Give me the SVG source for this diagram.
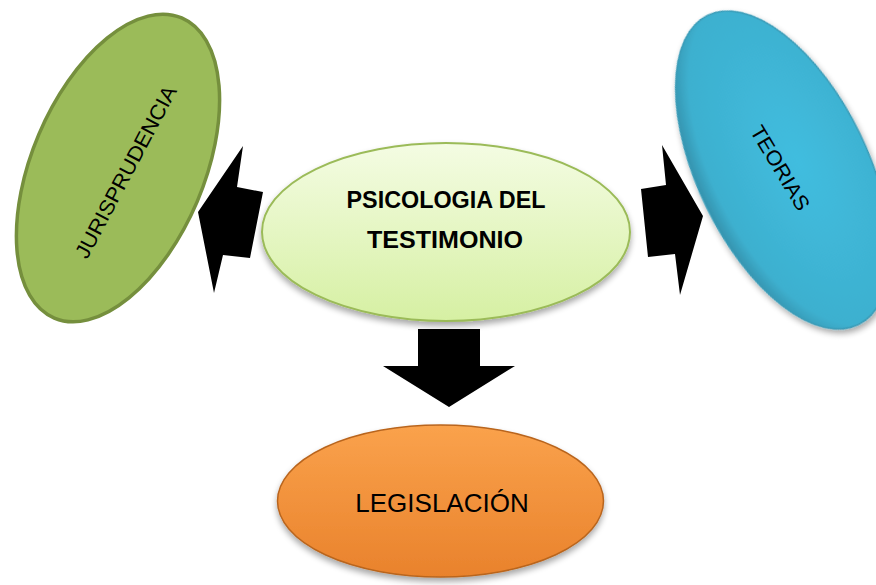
<svg xmlns="http://www.w3.org/2000/svg" width="876" height="585" viewBox="0 0 876 585">
<style>
.lbl{font-family:"Liberation Sans",Arial,sans-serif;fill:#000}
.bold{font-weight:bold}
.arrow{fill:#000}
</style>
<defs>
<filter id="sh" x="-20%" y="-20%" width="140%" height="150%">
<feGaussianBlur in="SourceAlpha" stdDeviation="3"/>
<feOffset dx="0" dy="4" result="b"/>
<feComponentTransfer><feFuncA type="linear" slope="0.35"/></feComponentTransfer>
<feMerge><feMergeNode/><feMergeNode in="SourceGraphic"/></feMerge>
</filter>
<linearGradient id="gCenter" x1="0" y1="0" x2="0" y2="1">
<stop offset="0" stop-color="#F4FCE3"/>
<stop offset="1" stop-color="#D6F0A3"/>
</linearGradient>
<linearGradient id="gOrange" x1="0" y1="0" x2="0" y2="1">
<stop offset="0" stop-color="#FAA24C"/>
<stop offset="1" stop-color="#E9822C"/>
</linearGradient>
<radialGradient id="gBlue" cx="0.6" cy="0.5" r="0.6">
<stop offset="0" stop-color="#41BDDF"/>
<stop offset="0.85" stop-color="#3DB0CF"/>
<stop offset="1" stop-color="#3592AD"/>
</radialGradient>
</defs>
<g id="connectors">
<polygon class="arrow" points="198,212 243,146 237,187 263,192 250,258 223,255 214,293"/>
<polygon class="arrow" points="703,216 662,145 666,185 641,189 648,257 675,254 680,295"/>
<polygon class="arrow" points="418,329 480,329 480,366 515,366 449,407 383,366 418,366"/>
</g>
<g id="jurisprudencia">
<ellipse cx="118" cy="168" rx="86" ry="163" transform="rotate(23 118 168)" fill="#9BBB59" stroke="#758F3D" stroke-width="3.5"/>
<text class="lbl" x="0" y="7" font-size="21" text-anchor="middle" textLength="192" lengthAdjust="spacingAndGlyphs" transform="translate(126 172) rotate(-62)">JURISPRUDENCIA</text>
</g>
<g id="teorias">
<ellipse cx="783" cy="170" rx="85" ry="172" transform="rotate(-26 783 170)" fill="url(#gBlue)" stroke="#3A9CB8" stroke-width="1.5" filter="url(#sh)"/>
<text class="lbl" x="0" y="7" font-size="21" text-anchor="middle" textLength="95" lengthAdjust="spacingAndGlyphs" transform="translate(780 168) rotate(59)">TEORIAS</text>
</g>
<g id="psicologia">
<ellipse cx="446" cy="232" rx="184" ry="89" fill="url(#gCenter)" stroke="#9BBB59" stroke-width="2" filter="url(#sh)"/>
<text class="lbl bold" x="446" y="208" font-size="24" text-anchor="middle" textLength="199" lengthAdjust="spacingAndGlyphs">PSICOLOGIA DEL</text>
<text class="lbl bold" x="445" y="248" font-size="24" text-anchor="middle" textLength="156" lengthAdjust="spacingAndGlyphs">TESTIMONIO</text>
</g>
<g id="legislacion">
<ellipse cx="440.5" cy="501" rx="163" ry="76" fill="url(#gOrange)" stroke="#B9651E" stroke-width="1.5" filter="url(#sh)"/>
<text class="lbl" x="442" y="512" font-size="26" text-anchor="middle">LEGISLACIÓN</text>
</g>
</svg>
